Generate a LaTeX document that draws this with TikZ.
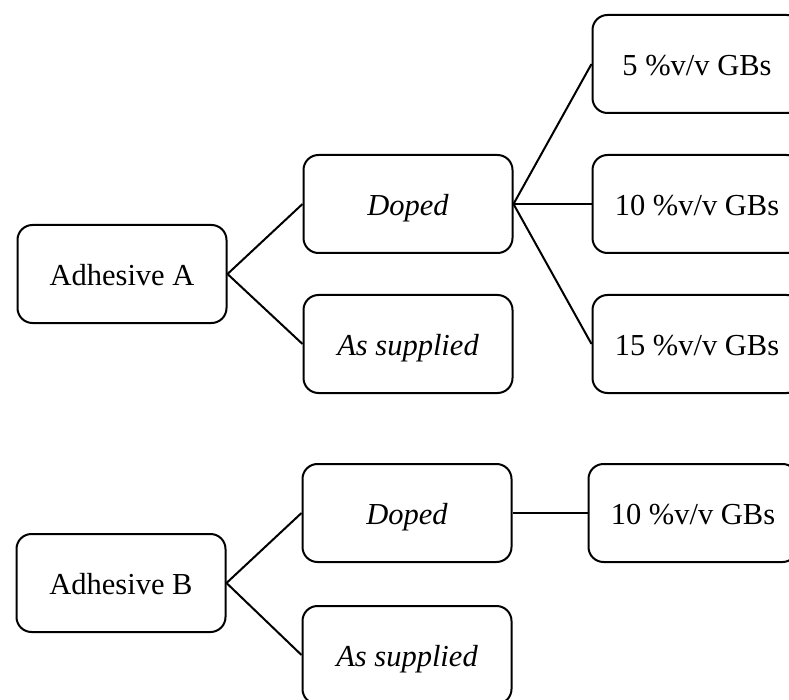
\documentclass[tikz,border=0pt]{standalone}
\usepackage{fontspec}
\setmainfont{Liberation Serif}
\begin{document}
\begin{tikzpicture}[x=1pt,y=-1pt,
  box/.style={draw=black, line width=2pt, rounded corners=15pt, minimum width=209pt, minimum height=98pt, inner sep=0pt, text height=23pt, text depth=0pt, font=\fontsize{30.5}{36}\selectfont, fill=white},
  link/.style={draw=black, line width=2pt}]
\useasboundingbox (0,0) rectangle (789,700);
\clip (0,0) rectangle (789,700);
\node[box] (adA) at (122,274) {Adhesive A};
\node[box] (dopA) at (408,204) {\itshape Doped};
\node[box] (asA) at (408,344) {\itshape As supplied};
\node[box] (g5) at (697,64) {5 \%v/v GBs};
\node[box] (g10) at (697,204) {10 \%v/v GBs};
\node[box] (g15) at (697,344) {15 \%v/v GBs};
\node[box] (adB) at (121,583) {Adhesive B};
\node[box] (dopB) at (407,513) {\itshape Doped};
\node[box] (asB) at (407,655) {\itshape As supplied};
\node[box] (g10B) at (693,513) {10 \%v/v GBs};
\draw[link] (adA.east) -- (dopA.west);
\draw[link] (adA.east) -- (asA.west);
\draw[link] (dopA.east) -- (g5.west);
\draw[link] (dopA.east) -- (g10.west);
\draw[link] (dopA.east) -- (g15.west);
\draw[link] (adB.east) -- (dopB.west);
\draw[link] (adB.east) -- (asB.west);
\draw[link] (dopB.east) -- (g10B.west);
\end{tikzpicture}
\end{document}
